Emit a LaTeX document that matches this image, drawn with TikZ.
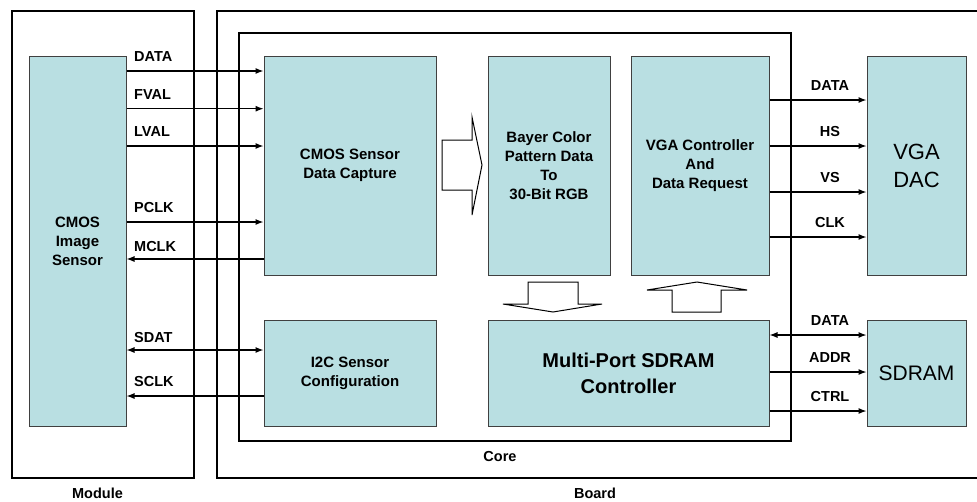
\documentclass[tikz,border=0pt]{standalone}
\usepackage{fontspec}
\setmainfont{Liberation Sans}
\usetikzlibrary{arrows.meta}
\usetikzlibrary{positioning}
\definecolor{blockfill}{RGB}{185,223,226}
\tikzset{block/.style = {draw=black!75, line width=1pt, fill=blockfill,
                         inner sep=0pt, align=center,
                         font=\bfseries\fontsize{15}{19}\selectfont},
         sig/.style = {line width=1.1pt, -{Latex[length=8pt,width=6pt]}},
         bisig/.style = {line width=1.1pt,
                         {Latex[length=8pt,width=6pt]}-{Latex[length=8pt,width=6pt]}},
         sigtext/.style = {font=\bfseries\fontsize{14.5}{16}\selectfont, inner sep=0pt},
         frame/.style = {line width=1.4pt},
         fatarrow/.style = {draw, fill=white, line width=1pt, line join=miter}}

\begin{document}
\begin{tikzpicture}[x=1pt, y=-1pt]
    \useasboundingbox (0,0) rectangle (977,501);

    % frames
    \draw [frame] (12,11) rectangle (194,478);
    \draw [frame] (990,11) -- (217,11) -- (217,478) -- (990,478);
    \draw [frame] (239,33) rectangle (791,441);
    \node [sigtext] (module) at (97.5,493) {Module};
    \node [sigtext] (board) at (595,493) {Board};
    \node [sigtext] (core) at (500,457) {Core};

    % blocks
    \node [block, minimum width=97pt, minimum height=370pt] (sensor) at (77.5,241) {CMOS\\Image\\Sensor};
    \node [block, minimum width=172pt, minimum height=219pt] (capture) at (350,165.5) {CMOS Sensor\\Data Capture};
    \node [block, minimum width=172pt, minimum height=106pt] (i2c) at (350,373) {I2C Sensor\\Configuration};
    \node [block, minimum width=122pt, minimum height=219pt] (bayer) at (549,165.5) {Bayer Color\\Pattern Data\\To\\30-Bit RGB};
    \node [block, minimum width=138pt, minimum height=219pt] (vgactl) at (700,165.5) {VGA Controller\\And\\Data Request};
    \node [block, minimum width=281pt, minimum height=106pt,
           font=\bfseries\fontsize{20}{26}\selectfont] (sdramctl) at (628.5,373) {Multi-Port SDRAM\\Controller};
    \node [block, minimum width=99pt, minimum height=219pt,
           font=\fontsize{22}{28}\selectfont] (vgadac) at (916.5,165.5) {VGA\\DAC};
    \node [block, minimum width=99pt, minimum height=106pt,
           font=\fontsize{21}{26}\selectfont] (sdram) at (916.5,373) {SDRAM};

    % sensor side
    \foreach \y/\txt in {71/DATA, 108.7/FVAL, 146/LVAL, 222/PCLK} {
      \draw [sig] (sensor.east |- 0,\y) -- (capture.west |- 0,\y);
      \node [sigtext, anchor=base west] (in-\txt) at (134,\y-9.5) {\txt};
    }
    \draw [sig] (capture.west |- 0,259) -- (sensor.east |- 0,259);
    \node [sigtext, anchor=base west] (in-MCLK) at (134,251) {MCLK};
    \draw [bisig] (sensor.east |- 0,350) -- (i2c.west |- 0,350);
    \node [sigtext, anchor=base west] (in-SDAT) at (134,342) {SDAT};
    \draw [sig] (i2c.west |- 0,396) -- (sensor.east |- 0,396);
    \node [sigtext, anchor=base west] (in-SCLK) at (134,386) {SCLK};

    % vga side
    \foreach \y/\txt in {100/DATA, 146/HS, 192/VS, 237/CLK} {
      \draw [sig] (vgactl.east |- 0,\y) -- (vgadac.west |- 0,\y);
      \node [sigtext, anchor=base] (out-\txt) at (830,\y-9.5) {\txt};
    }

    % memory side
    \draw [bisig] (sdramctl.east |- 0,335) -- (sdram.west |- 0,335);
    \node [sigtext, anchor=base] (mem-DATA) at (830,325.5) {DATA};
    \foreach \y/\txt in {372/ADDR, 411/CTRL} {
      \draw [sig] (sdramctl.east |- 0,\y) -- (sdram.west |- 0,\y);
      \node [sigtext, anchor=base] (mem-\txt) at (830,\y-9.5) {\txt};
    }

    % wide arrows
    \draw [fatarrow] (442,140) -- (472,140) -- (472,117) -- (482,165) -- (472,215) -- (472,190) -- (442,190) -- cycle;
    \draw [fatarrow] (528,282) -- (578,282) -- (578,304) -- (602,304) -- (553,312) -- (503,304) -- (528,304) -- cycle;
    \draw [fatarrow] (672,312) -- (721,312) -- (721,290) -- (747,290) -- (697,282) -- (647,290) -- (672,290) -- cycle;
\end{tikzpicture}
\end{document}
